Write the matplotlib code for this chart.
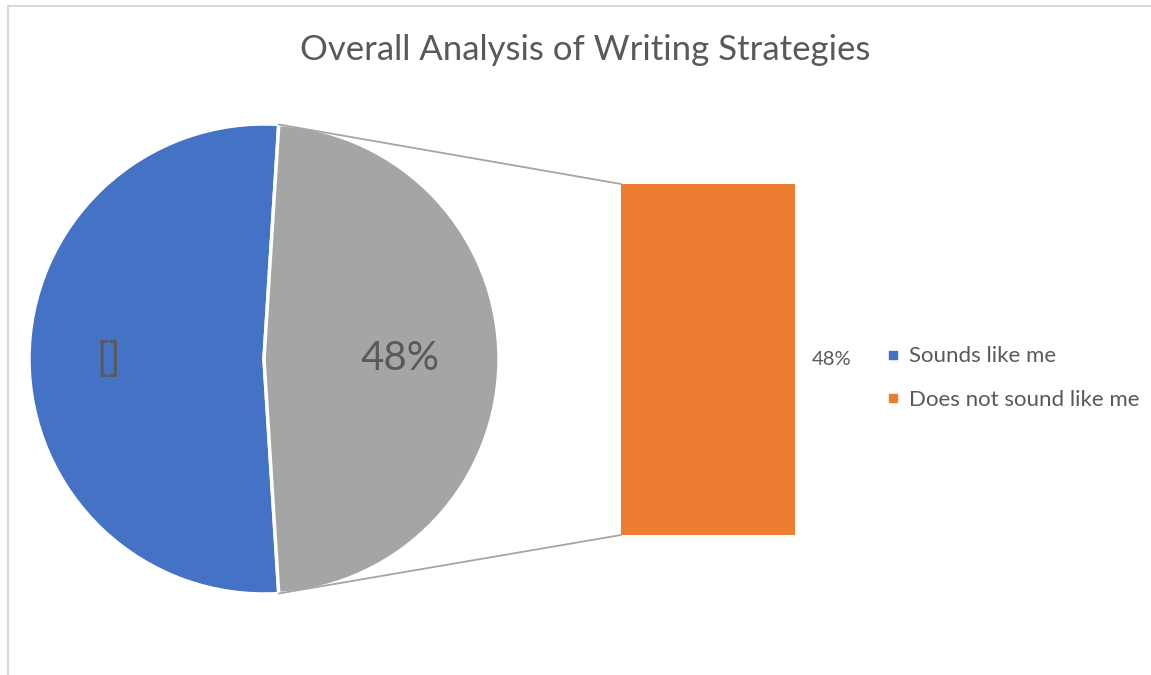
import matplotlib
matplotlib.use("Agg")
import matplotlib.pyplot as plt
import numpy as np
from matplotlib.lines import Line2D
from matplotlib.patches import ConnectionPatch, Rectangle

# Data
title = "Overall Analysis of Writing Strategies"
legend_labels = ["Sounds like me", "Does not sound like me"]
pie_values = [52, 48]          # second slice = group shown in the bar
pie_labels = ["[]", "48%"]
bar_values = [48]
bar_labels = ["48%"]

pie_colors = ["#4472C4", "#A5A5A5"]
bar_colors = ["#ED7D31"]
legend_colors = ["#4472C4", "#ED7D31"]
text_color = "#595959"

plt.rcParams['font.family'] = ['Lato', 'DejaVu Sans']

W, H = 1151, 675
fig = plt.figure(figsize=(W / 100, H / 100), dpi=100)


def box(x0, y0, x1, y1):
    # pixel box -> figure fraction
    return [x0 / W, 1 - y1 / H, (x1 - x0) / W, (y1 - y0) / H]


# chart border (only left/top visible in the original)
fig.patches.append(Rectangle((8 / W, -0.1), 1.2, 1 - 5.5 / H + 0.1,
                             transform=fig.transFigure, fill=False,
                             edgecolor="#D9D9D9", linewidth=1.5))

fig.text(585 / W, 1 - 50 / H, title, ha='center', va='center',
         fontsize=25, color=text_color)

# Pie
pie_ax = fig.add_axes(box(29, 124, 499, 594))
start = 360 * pie_values[1] / sum(pie_values) / 2
wedges, _ = pie_ax.pie(pie_values, colors=pie_colors, startangle=start,
                       counterclock=True, radius=1,
                       wedgeprops=dict(edgecolor='white', linewidth=2.5))
for w, lab, r in zip(wedges, pie_labels, [0.66, 0.58]):
    mid = np.deg2rad((w.theta1 + w.theta2) / 2)
    pie_ax.text(r * np.cos(mid), r * np.sin(mid), lab,
                ha='center', va='center', fontsize=29, color=text_color)
pie_ax.set_xlim(-1, 1)
pie_ax.set_ylim(-1, 1)
pie_ax.set_aspect('equal')
pie_ax.axis('off')

# Bar
bar_ax = fig.add_axes(box(621, 184, 795, 535))
bottom = 0
for v, c, lab in zip(bar_values, bar_colors, bar_labels):
    bar_ax.bar([0], [v], bottom=bottom, width=1, color=c)
    bar_ax.annotate(lab, xy=(0.5, bottom + v / 2), xytext=(12, 0),
                    textcoords='offset points', ha='left', va='center',
                    fontsize=14.5, color=text_color, annotation_clip=False)
    bottom += v
bar_ax.set_xlim(-0.5, 0.5)
bar_ax.set_ylim(0, sum(bar_values))
bar_ax.axis('off')

# connector lines from the grey slice to the bar
gw = wedges[1]
for ang, yb in [(gw.theta2, sum(bar_values)), (gw.theta1, 0)]:
    a = np.deg2rad(ang)
    con = ConnectionPatch(xyA=(np.cos(a), np.sin(a)), coordsA=pie_ax.transData,
                          xyB=(-0.5, yb), coordsB=bar_ax.transData,
                          color="#A5A5A5", linewidth=1.3)
    fig.add_artist(con)

# Legend
handles = [Line2D([0], [0], marker='s', linestyle='none', markersize=6,
                  markerfacecolor=c, markeredgecolor=c) for c in legend_colors]
fig.legend(handles, legend_labels, loc='center left',
           bbox_to_anchor=(866 / W, 1 - 378 / H), frameon=False,
           fontsize=16, labelcolor=text_color, handlelength=0.6,
           handletextpad=0.45, labelspacing=1.05)

fig.savefig("out.png", dpi=100)
